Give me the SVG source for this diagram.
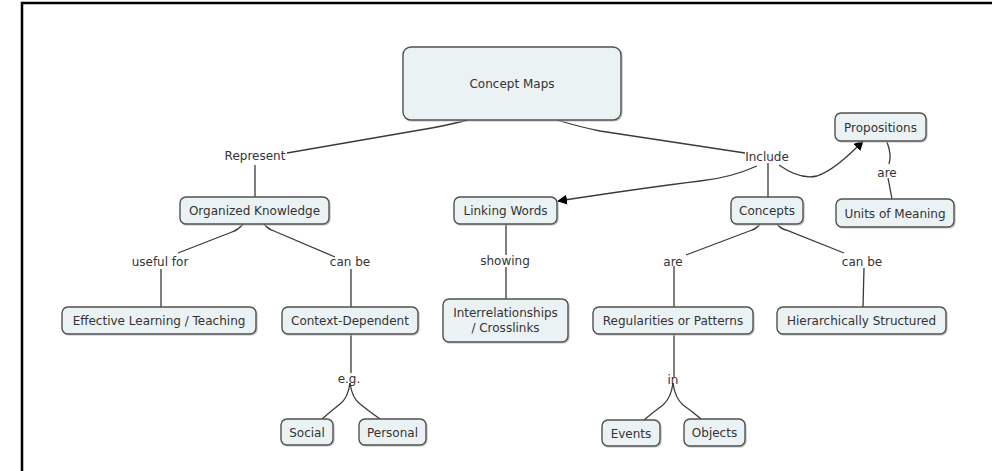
<svg xmlns="http://www.w3.org/2000/svg" width="992" height="471" viewBox="0 0 992 471">
<style>
.node rect.b{fill:#ebf2f4;stroke:#505050;stroke-width:1.4}
.node rect.s{fill:none;stroke:#bbbbbb;stroke-width:1.2}
.t{font-family:"DejaVu Sans",Verdana,sans-serif;font-size:12px;fill:#333;text-anchor:middle}
.lbl{font-family:"DejaVu Sans",Verdana,sans-serif;font-size:12px;fill:#333;text-anchor:middle}
#connectors path{fill:none;stroke:#3a3a3a;stroke-width:1.3}
</style>
<defs>
<marker id="arr" viewBox="0 0 10 10" refX="9" refY="5" markerWidth="10" markerHeight="10" markerUnits="userSpaceOnUse" orient="auto">
<path d="M0,0 L10,5 L0,10 Z" fill="#000"/>
</marker>
</defs>
<rect x="0" y="0" width="992" height="471" fill="#fff"/>
<path d="M22,471 L22,3 L992,3" fill="none" stroke="#000" stroke-width="2.5"/>

<g id="connectors">
<path d="M468,120 Q440,127 420,130 L287,153"/>
<path d="M255,165 L255,197"/>
<path d="M557,120 Q580,127 600,131 L745,153"/>
<path d="M757,166 Q730,178 700,181 Q650,187 558,201" marker-end="url(#arr)"/>
<path d="M779,165 Q800,180 817,176 Q835,170 863,141" marker-end="url(#arr)"/>
<path d="M768,163 L768,197"/>
<path d="M887,142 Q892,155 889,164"/>
<path d="M888,178 L892,199"/>
<path d="M243,224 Q238,230 232,232 L178,253"/>
<path d="M161,269 L161,307"/>
<path d="M264,224 Q268,229 274,231 L335,257"/>
<path d="M351,269 L351,307"/>
<path d="M351,334 L351,373"/>
<path d="M350,383 Q348,398 340,404 Q330,412 322,419"/>
<path d="M350,383 Q352,398 360,404 Q370,412 380,419"/>
<path d="M506,224 L506,255"/>
<path d="M506,267 L506,299"/>
<path d="M760,224 Q756,229 752,230 L686,255"/>
<path d="M674,266 L674,307"/>
<path d="M777,224 Q781,229 786,230 L844,253"/>
<path d="M864,268 L863,307"/>
<path d="M674,334 L674,377"/>
<path d="M673,383 Q671,398 663,405 Q652,413 644,420"/>
<path d="M673,383 Q675,398 683,405 Q693,412 701,419"/>
</g>

<g id="labels">
<text class="lbl" x="255" y="160">Represent</text>
<text class="lbl" x="767" y="161">Include</text>
<text class="lbl" x="887" y="177">are</text>
<text class="lbl" x="160" y="266">useful for</text>
<text class="lbl" x="350" y="266">can be</text>
<text class="lbl" x="505" y="265">showing</text>
<text class="lbl" x="673" y="266">are</text>
<text class="lbl" x="862" y="266">can be</text>
<text class="lbl" x="349" y="383">e.g.</text>
<text class="lbl" x="673" y="384">in</text>
</g>

<g id="n-concept-maps" class="node"><rect class="s" x="404" y="48" width="218" height="73" rx="8"/><rect class="b" x="403" y="47" width="218" height="73" rx="8"/><text class="t" x="512" y="87.5">Concept Maps</text></g>
<g id="n-propositions" class="node"><rect class="s" x="836" y="114" width="91" height="28" rx="6"/><rect class="b" x="835" y="113" width="91" height="28" rx="6"/><text class="t" x="880.5" y="131.5">Propositions</text></g>
<g id="n-units" class="node"><rect class="s" x="837" y="200" width="118" height="28" rx="6"/><rect class="b" x="836" y="199" width="118" height="28" rx="6"/><text class="t" x="895" y="217.5">Units of Meaning</text></g>
<g id="n-organized" class="node"><rect class="s" x="181" y="198" width="149" height="27" rx="6"/><rect class="b" x="180" y="197" width="149" height="27" rx="6"/><text class="t" x="254.5" y="215">Organized Knowledge</text></g>
<g id="n-linking" class="node"><rect class="s" x="455" y="198" width="103" height="27" rx="6"/><rect class="b" x="454" y="197" width="103" height="27" rx="6"/><text class="t" x="505.5" y="215">Linking Words</text></g>
<g id="n-concepts" class="node"><rect class="s" x="732" y="198" width="72" height="27" rx="6"/><rect class="b" x="731" y="197" width="72" height="27" rx="6"/><text class="t" x="767" y="215">Concepts</text></g>
<g id="n-effective" class="node"><rect class="s" x="63" y="308" width="194" height="27" rx="6"/><rect class="b" x="62" y="307" width="194" height="27" rx="6"/><text class="t" x="159" y="325">Effective Learning / Teaching</text></g>
<g id="n-context" class="node"><rect class="s" x="283" y="308" width="136" height="27" rx="6"/><rect class="b" x="282" y="307" width="136" height="27" rx="6"/><text class="t" x="350" y="325">Context-Dependent</text></g>
<g id="n-inter" class="node"><rect class="s" x="444" y="300" width="125" height="43" rx="6"/><rect class="b" x="443" y="299" width="125" height="43" rx="6"/><text class="t" x="505.5" y="317">Interrelationships</text><text class="t" x="505.5" y="332">/ Crosslinks</text></g>
<g id="n-regularities" class="node"><rect class="s" x="594" y="308" width="160" height="27" rx="6"/><rect class="b" x="593" y="307" width="160" height="27" rx="6"/><text class="t" x="673" y="325">Regularities or Patterns</text></g>
<g id="n-hier" class="node"><rect class="s" x="778" y="308" width="169" height="27" rx="6"/><rect class="b" x="777" y="307" width="169" height="27" rx="6"/><text class="t" x="861.5" y="325">Hierarchically Structured</text></g>
<g id="n-social" class="node"><rect class="s" x="282" y="420" width="52" height="26" rx="6"/><rect class="b" x="281" y="419" width="52" height="26" rx="6"/><text class="t" x="307" y="436.5">Social</text></g>
<g id="n-personal" class="node"><rect class="s" x="360" y="420" width="67" height="26" rx="6"/><rect class="b" x="359" y="419" width="67" height="26" rx="6"/><text class="t" x="392.5" y="436.5">Personal</text></g>
<g id="n-events" class="node"><rect class="s" x="603" y="421" width="58" height="26" rx="6"/><rect class="b" x="602" y="420" width="58" height="26" rx="6"/><text class="t" x="631" y="437.5">Events</text></g>
<g id="n-objects" class="node"><rect class="s" x="685" y="420" width="61" height="27" rx="6"/><rect class="b" x="684" y="419" width="61" height="27" rx="6"/><text class="t" x="714.5" y="436.5">Objects</text></g>
</svg>
